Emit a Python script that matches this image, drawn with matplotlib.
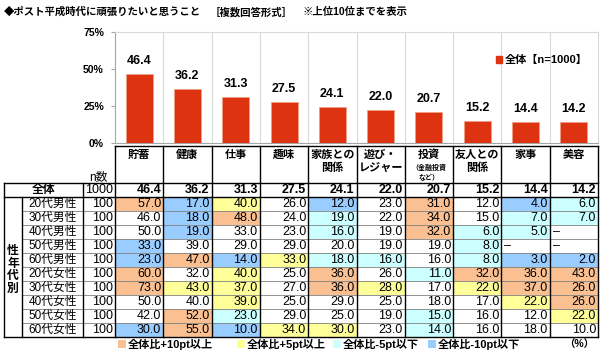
import matplotlib
matplotlib.use('Agg')
import matplotlib.pyplot as plt
from matplotlib.patches import Rectangle, Patch

plt.rcParams['font.family'] = ['Liberation Sans', 'Noto Sans CJK JP']

# ---------------- data ----------------
categories = ['貯蓄', '健康', '仕事', '趣味', '家族との\n関係', '遊び・\nレジャー',
              '投資', '友人との\n関係', '家事', '美容']
category_notes = ['', '', '', '', '', '', '（金融投資\nなど）', '', '', '']
total_label = '全体'
total_n = 1000
total_values = [46.4, 36.2, 31.3, 27.5, 24.1, 22.0, 20.7, 15.2, 14.4, 14.2]

group_labels = ['20代男性', '30代男性', '40代男性', '50代男性', '60代男性',
                '20代女性', '30代女性', '40代女性', '50代女性', '60代女性']
group_n = [100, 100, 100, 100, 100, 100, 100, 100, 100, 100]
v_20m = [57.0, 17.0, 40.0, 26.0, 12.0, 23.0, 31.0, 12.0, 4.0, 6.0]
v_30m = [46.0, 18.0, 48.0, 24.0, 19.0, 22.0, 34.0, 15.0, 7.0, 7.0]
v_40m = [50.0, 19.0, 33.0, 23.0, 16.0, 19.0, 32.0, 6.0, 5.0, None]
v_50m = [33.0, 39.0, 29.0, 29.0, 20.0, 19.0, 19.0, 8.0, None, None]
v_60m = [23.0, 47.0, 14.0, 33.0, 18.0, 16.0, 16.0, 8.0, 3.0, 2.0]
v_20f = [60.0, 32.0, 40.0, 25.0, 36.0, 26.0, 11.0, 32.0, 36.0, 43.0]
v_30f = [73.0, 43.0, 37.0, 27.0, 36.0, 28.0, 17.0, 22.0, 37.0, 26.0]
v_40f = [50.0, 40.0, 39.0, 25.0, 29.0, 25.0, 18.0, 17.0, 22.0, 26.0]
v_50f = [42.0, 52.0, 23.0, 29.0, 25.0, 19.0, 15.0, 16.0, 12.0, 22.0]
v_60f = [30.0, 55.0, 10.0, 34.0, 30.0, 23.0, 14.0, 16.0, 18.0, 10.0]
group_values = [v_20m, v_30m, v_40m, v_50m, v_60m, v_20f, v_30f, v_40f, v_50f, v_60f]
side_label = '性\n年\n代\n別'
yticks = [0, 25, 50, 75]
ytick_labels = ['0%', '25%', '50%', '75%']
legend_labels = ['全体比+10pt以上', '全体比+5pt以上', '全体比-5pt以下', '全体比-10pt以下']

# ---------------- style ----------------
BAR = '#DD3310'
C_P10, C_P5, C_M5, C_M10 = '#FAC091', '#FFFF99', '#CCFFFF', '#99CCFF'
legend_colors = [C_P10, C_P5, C_M5, C_M10]


def cell_color(v, base):
    if v is None:
        return 'white'
    d = v - base
    if d >= 10:
        return C_P10
    if d >= 5:
        return C_P5
    if d <= -10:
        return C_M10
    if d <= -5:
        return C_M5
    return 'white'


W, H = 600, 352
fig = plt.figure(figsize=(W / 100, H / 100), dpi=100)

# ---------------- bar chart ----------------
X0, XR = 115, 598
YT, YB = 32, 143
ax = fig.add_axes([X0 / W, 1 - YB / H, (XR - X0) / W, (YB - YT) / H])
xs = list(range(len(categories)))
bars = ax.bar(xs, total_values, width=0.56, color=BAR, edgecolor='#F0A080',
              linewidth=0.5, zorder=3)
for x, v in zip(xs, total_values):
    ax.annotate(f'{v:.1f}', (x, v), xytext=(0, 5), textcoords='offset points',
                ha='center', va='bottom', fontsize=9, fontweight='bold')
ax.set_xlim(-0.5, len(categories) - 0.5)
ax.set_ylim(0, 75)
ax.set_xticks([])
ax.set_yticks(yticks)
ax.set_yticklabels(ytick_labels, fontsize=7.5, fontweight='bold')
ax.tick_params(axis='y', length=3, color='#A6A6A6', pad=5)
for i in range(1, len(categories)):
    ax.axvline(i - 0.5, color='#D9D9D9', lw=0.8, zorder=1)
for s in ['top', 'right']:
    ax.spines[s].set_color('#D9D9D9')
for s in ['left', 'bottom']:
    ax.spines[s].set_color('#A6A6A6')
ax.legend(handles=[Patch(color=BAR, label=f'{total_label}【n={total_n}】')],
          loc='upper right', bbox_to_anchor=(1.0, 0.88), frameon=False,
          handlelength=0.55, handleheight=0.55, handletextpad=0.3,
          prop={'size': 8, 'weight': 'bold'})

# ---------------- table ----------------
tb = fig.add_axes([0, 0, 1, 1])
tb.set_xlim(0, W)
tb.set_ylim(H, 0)
tb.axis('off')

ncol = len(categories)
colw = (XR - X0) / ncol
xa, xb, xc = 4, 22, 83
htop, r0, rh = 146, 183, 14
nrow = len(group_labels)
bottom = r0 + rh * (nrow + 1)

# header texts
for j, (c, note) in enumerate(zip(categories, category_notes)):
    cx = X0 + (j + 0.5) * colw
    lines = c.split('\n')
    for k, ln in enumerate(lines):
        tb.text(cx, 155 + 13 * k, ln, ha='center', va='center', fontsize=8,
                fontweight='bold')
    if note:
        for k, ln in enumerate(note.split('\n')):
            tb.text(cx, 168 + 10 * k, ln, ha='center', va='center', fontsize=5,
                    fontweight='bold')
tb.text(98, 177, 'n数', ha='center', va='center', fontsize=8.5)

# total row
tb.text((xa + xc) / 2, r0 + rh / 2, total_label, ha='center', va='center',
        fontsize=8.5, fontweight='bold')
tb.text(X0 - 2, r0 + rh / 2, f'{total_n}', ha='right', va='center', fontsize=9)
for j, v in enumerate(total_values):
    tb.text(X0 + (j + 1) * colw - 2, r0 + rh / 2, f'{v:.1f}', ha='right',
            va='center', fontsize=9, fontweight='bold')

# body rows
for i, (lab, n, vals) in enumerate(zip(group_labels, group_n, group_values)):
    ytop = r0 + rh * (i + 1)
    yc = ytop + rh / 2
    tb.text((xb + xc) / 2, yc, lab, ha='center', va='center', fontsize=8.5)
    tb.text(X0 - 2, yc, f'{n}', ha='right', va='center', fontsize=9)
    for j, v in enumerate(vals):
        xl = X0 + j * colw
        tb.add_patch(Rectangle((xl, ytop), colw, rh,
                               facecolor=cell_color(v, total_values[j]),
                               edgecolor='none', zorder=1))
        if v is None:
            tb.text(xl + 3, yc, '–', ha='left', va='center', fontsize=9)
        else:
            tb.text(xl + colw - 2, yc, f'{v:.1f}', ha='right', va='center',
                    fontsize=9)
    if i > 0:
        tb.plot([xb, XR], [ytop, ytop], color='#808080', lw=0.6, zorder=2)

tb.text((xa + xb) / 2, 270, side_label, ha='center', va='center', fontsize=8.5,
        fontweight='bold', linespacing=1.05)

# table lines
K = dict(color='black', lw=1.0, zorder=3, solid_capstyle='projecting')
tb.plot([X0, XR], [htop, htop], **K)
tb.plot([xa, XR], [r0, r0], **K)
tb.plot([xa, XR], [r0 + rh, r0 + rh], **K)
tb.plot([xa, XR], [bottom, bottom], **K)
for j in range(ncol + 1):
    x = X0 + j * colw
    tb.plot([x, x], [htop, bottom], **K)
tb.plot([xa, xa], [r0, bottom], **K)
tb.plot([xb, xb], [r0 + rh, bottom], **K)
tb.plot([xc, xc], [r0, bottom], **K)

# bottom legend
leg_x = [118, 237, 333, 428]
for x, col, lab in zip(leg_x, legend_colors, legend_labels):
    tb.add_patch(Rectangle((x, 340), 8, 8, facecolor=col, edgecolor='none'))
    tb.text(x + 10, 344.5, lab, ha='left', va='center', fontsize=8,
            fontweight='bold')
tb.text(594, 344.5, '（%）', ha='right', va='center', fontsize=7.5,
        fontweight='bold')

# title
fig.text(4 / W, 1 - 12 / H, '◆ポスト平成時代に頑張りたいと思うこと', ha='left',
         va='center', fontsize=7.5, fontweight='bold')
fig.text(210 / W, 1 - 12 / H, '［複数回答形式］', ha='left', va='center',
         fontsize=7.5, fontweight='bold')
fig.text(302 / W, 1 - 12 / H, '※上位10位までを表示', ha='left', va='center',
         fontsize=7.5, fontweight='bold')

fig.savefig('out.png', dpi=100)
